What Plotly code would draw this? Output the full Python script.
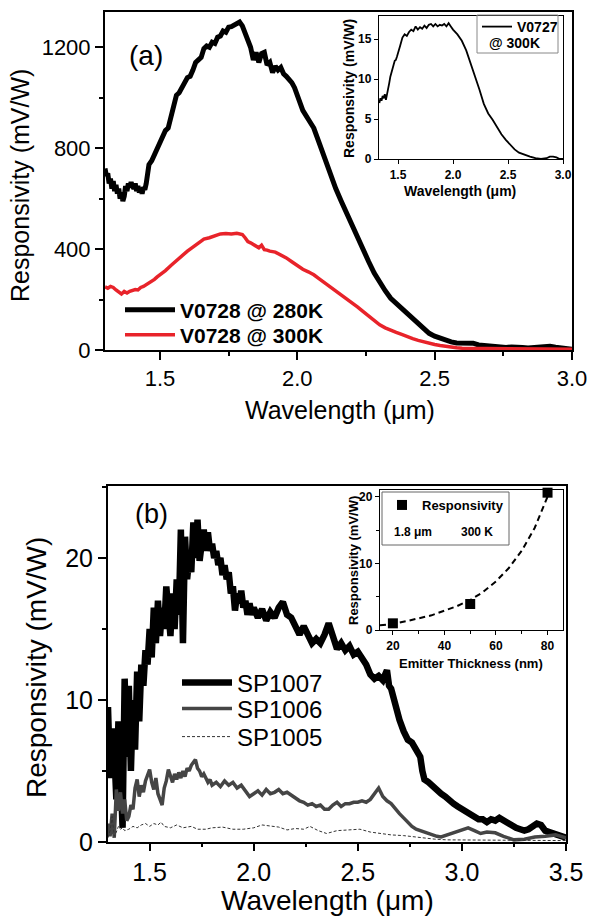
import plotly.graph_objects as go

W, H = 590, 917

# ---------------- Panel (a) data ----------------
wl_280 = [1.300,1.305,1.310,1.315,1.320,1.325,1.330,1.335,1.340,1.345,1.350,1.355,1.360,1.365,1.370,1.375,1.380,1.385,1.390,1.395,
          1.400,1.405,1.410,1.415,1.420,1.425,1.430,1.435,1.440,1.445,1.450,1.455,1.460,1.470,1.480,1.490,1.500,1.510,1.520,1.530,
          1.540,1.550,1.560,1.570,1.580,1.590,1.600,1.610,1.620,1.630,1.640,1.650,1.660,1.670,1.680,1.690,1.700,1.710,1.720,1.730,
          1.740,1.750,1.760,1.770,1.780,1.790,1.800,1.810,1.820,1.830,1.840,1.850,1.860,1.870,1.880,1.890,1.900,1.910,1.920,1.930,
          1.940,1.950,1.960,1.970,1.980,1.990,2.000,2.020,2.040,2.060,2.080,2.100,2.120,2.140,2.160,2.180,2.200,2.220,2.240,2.260,
          2.280,2.300,2.320,2.340,2.360,2.380,2.400,2.420,2.440,2.460,2.480,2.500,2.520,2.540,2.560,2.580,2.600,2.620,2.640,2.660,
          2.680,2.700,2.720,2.740,2.760,2.780,2.800,2.820,2.840,2.860,2.880,2.900,2.920,2.940,2.960,2.980,3.000]
resp_280 = [720,690,700,660,680,640,670,630,655,620,640,600,625,590,610,650,630,660,645,665,
            650,640,660,630,650,625,640,620,645,635,660,700,735,750,775,790,815,840,870,880,
            920,960,1010,1020,1045,1060,1080,1085,1110,1140,1150,1160,1195,1205,1200,1220,1215,1240,1245,1265,
            1260,1280,1282,1288,1295,1300,1285,1260,1235,1200,1150,1180,1140,1175,1180,1130,1140,1100,1125,1110,
            1120,1095,1085,1075,1060,1040,1005,950,915,880,820,755,690,640,590,540,490,445,395,350,
            305,265,235,205,185,160,140,120,100,80,66,55,46,38,32,28,28,25,27,20,
            18,14,12,14,10,12,9,10,8,9,10,12,15,11,7,5,3]

wl_300 = [1.300,1.310,1.320,1.330,1.340,1.350,1.360,1.370,1.380,1.390,1.400,1.410,1.420,1.430,1.440,1.450,1.460,1.470,1.480,1.490,
          1.500,1.520,1.540,1.560,1.580,1.600,1.620,1.640,1.660,1.680,1.700,1.720,1.740,1.760,1.780,1.800,1.810,1.820,1.830,1.840,
          1.850,1.860,1.870,1.880,1.890,1.900,1.920,1.940,1.960,1.980,2.000,2.020,2.040,2.060,2.080,2.100,2.120,2.140,2.160,2.180,
          2.200,2.220,2.240,2.260,2.280,2.300,2.320,2.340,2.360,2.380,2.400,2.420,2.440,2.460,2.480,2.500,2.520,2.540,2.560,2.580,
          2.600,2.650,2.700,2.800,2.900,3.000]
resp_300 = [250,245,252,248,238,228,222,232,226,233,236,240,238,248,252,258,266,272,280,290,
            298,315,335,355,372,392,408,424,440,445,452,460,462,460,463,458,445,430,425,418,
            412,405,415,398,396,392,388,378,365,350,335,320,310,298,282,266,250,235,220,206,
            188,170,152,135,118,100,88,78,70,62,52,45,38,32,26,22,18,14,11,9,
            7,6,5,5,4,3]

# inset (a)
wl_727 = [1.33,1.34,1.35,1.36,1.37,1.38,1.39,1.40,1.41,1.42,1.43,1.44,1.45,1.46,1.47,1.48,1.49,1.50,1.52,1.54,
          1.56,1.58,1.60,1.62,1.64,1.66,1.68,1.70,1.72,1.74,1.76,1.78,1.80,1.82,1.84,1.86,1.88,1.90,1.92,1.94,
          1.96,1.98,2.00,2.04,2.08,2.12,2.16,2.20,2.24,2.28,2.32,2.36,2.40,2.44,2.48,2.52,2.56,2.60,2.65,2.70,
          2.75,2.80,2.85,2.88,2.91,2.94,2.97,3.00]
resp_727 = [7.0,7.6,7.3,7.9,7.6,8.1,7.4,8.0,8.6,9.5,10.3,10.9,11.6,11.8,12.3,12.4,12.8,13.2,14.2,15.2,
            15.6,15.4,15.9,16.2,16.0,16.6,16.2,16.5,16.3,16.7,16.4,16.8,16.9,16.6,16.9,16.6,16.8,16.7,16.9,16.6,
            17.0,16.6,16.2,15.6,14.8,13.6,12.0,10.4,8.7,6.9,5.7,4.9,4.0,3.1,2.4,1.8,1.2,0.8,0.5,0.3,
            0.1,0.0,0.1,0.3,0.3,0.2,0.0,0.0]

# ---------------- Panel (b) data ----------------
wl_1007 = [1.30,1.31,1.32,1.33,1.34,1.35,1.36,1.37,1.38,1.39,1.40,1.41,1.42,1.43,1.44,1.45,1.46,1.47,1.48,1.49,
           1.50,1.51,1.52,1.53,1.54,1.55,1.56,1.57,1.58,1.59,1.60,1.61,1.62,1.63,1.64,1.65,1.66,1.67,1.68,1.69,
           1.70,1.71,1.72,1.73,1.74,1.75,1.76,1.77,1.78,1.79,1.80,1.81,1.82,1.83,1.84,1.85,1.86,1.87,1.88,1.89,
           1.90,1.91,1.92,1.93,1.94,1.95,1.96,1.97,1.98,1.99,2.00,2.02,2.04,2.06,2.08,2.10,2.12,2.14,2.16,2.18,
           2.20,2.22,2.24,2.26,2.28,2.30,2.32,2.34,2.36,2.38,2.40,2.42,2.44,2.46,2.48,2.50,2.52,2.54,2.56,2.58,
           2.60,2.62,2.64,2.65,2.66,2.68,2.70,2.72,2.74,2.76,2.78,2.80,2.81,2.82,2.84,2.86,2.88,2.90,2.92,2.94,
           2.96,2.98,3.00,3.02,3.04,3.06,3.08,3.10,3.12,3.14,3.16,3.18,3.20,3.22,3.24,3.26,3.28,3.30,3.32,3.34,
           3.36,3.38,3.40,3.42,3.44,3.46,3.48,3.50]
resp_1007 = [9.5,4.5,8.0,6.5,3.0,8.5,5.0,1.0,11.5,6.0,11.0,5.0,10.0,6.5,12.0,8.5,12.5,11.0,13.5,12.5,
             15.0,13.0,16.5,14.0,17.0,14.5,16.5,15.0,18.0,16.0,14.5,17.5,15.0,18.5,16.0,22.0,14.0,21.5,18.5,20.0,
             19.0,22.5,20.0,22.7,19.8,21.0,22.0,20.5,21.8,20.5,21.0,20.0,20.5,19.5,20.0,18.8,19.5,18.5,19.0,17.5,
             18.0,16.3,17.5,16.8,17.7,16.5,17.0,16.0,16.8,16.0,16.5,15.8,16.4,15.6,16.2,15.8,16.5,16.9,16.0,15.8,
             15.2,14.6,15.2,14.5,14.0,14.3,14.0,14.6,15.4,14.5,13.6,14.0,13.5,13.8,13.2,13.4,13.0,12.5,11.8,11.5,
             11.7,11.4,12.1,11.0,10.8,9.5,8.6,7.8,7.2,7.0,6.5,6.0,5.0,4.4,4.2,3.9,3.7,3.4,3.2,2.9,
             2.7,2.5,2.3,2.1,2.0,1.8,1.6,1.6,1.4,1.6,1.5,1.7,1.5,1.4,1.1,1.0,0.9,0.8,0.9,1.1,
             1.3,1.2,0.8,0.7,0.6,0.5,0.4,0.3]

wl_1006 = [1.30,1.31,1.32,1.33,1.34,1.35,1.36,1.37,1.38,1.39,1.40,1.41,1.42,1.43,1.44,1.45,1.46,1.47,1.48,1.49,
           1.50,1.51,1.52,1.53,1.54,1.55,1.56,1.57,1.58,1.59,1.60,1.61,1.62,1.63,1.64,1.65,1.66,1.67,1.68,1.69,
           1.70,1.71,1.72,1.73,1.74,1.75,1.76,1.77,1.78,1.79,1.80,1.82,1.84,1.86,1.88,1.90,1.92,1.94,1.96,1.98,
           2.00,2.02,2.04,2.06,2.08,2.10,2.12,2.14,2.16,2.18,2.20,2.22,2.24,2.26,2.28,2.30,2.32,2.34,2.36,2.38,
           2.40,2.42,2.44,2.46,2.48,2.50,2.52,2.54,2.56,2.58,2.60,2.62,2.64,2.66,2.68,2.70,2.72,2.74,2.76,2.78,
           2.80,2.82,2.85,2.88,2.90,2.93,2.96,3.00,3.03,3.06,3.09,3.12,3.16,3.20,3.25,3.30,3.35,3.40,3.45,3.50]
resp_1006 = [1.3,0.4,2.0,0.3,3.7,2.2,3.5,2.0,3.0,1.5,1.8,2.6,2.3,3.8,4.4,3.2,4.0,3.5,4.3,4.8,
             5.1,4.2,3.7,4.5,3.4,3.0,2.6,3.8,4.3,5.1,4.6,4.2,4.8,4.4,4.9,4.5,5.0,4.6,5.2,5.0,
             5.4,5.6,5.8,5.2,5.0,4.6,4.8,4.5,4.2,4.4,4.0,4.2,3.9,4.3,4.0,4.2,3.8,4.0,3.6,3.2,
             3.4,3.6,3.3,3.7,3.4,3.5,3.7,3.4,3.5,3.3,3.1,2.9,2.8,2.6,2.7,2.5,2.6,2.3,2.3,2.6,
             2.8,2.5,2.7,2.7,2.8,2.8,2.9,2.8,3.0,3.4,3.8,3.2,2.9,2.7,2.3,2.0,1.7,1.4,1.1,0.9,
             0.8,0.7,0.5,0.4,0.35,0.5,0.6,0.8,1.0,0.8,0.6,0.7,0.65,0.4,0.15,0.2,0.35,0.4,0.5,0.3]

wl_1005 = [1.30,1.31,1.32,1.33,1.34,1.35,1.36,1.37,1.38,1.40,1.42,1.44,1.46,1.48,1.50,1.52,1.54,1.555,1.57,1.60,
           1.63,1.66,1.70,1.73,1.77,1.80,1.85,1.90,1.95,2.00,2.04,2.08,2.12,2.16,2.20,2.24,2.27,2.31,2.35,2.40,
           2.45,2.51,2.56,2.61,2.66,2.72,2.77,2.82,2.87,2.93,3.00,3.10,3.20,3.30,3.40,3.50]
resp_1005 = [0.3,0.8,1.8,0.4,0.7,1.1,0.9,1.0,0.8,0.9,1.1,1.0,1.2,1.3,1.1,1.3,1.2,1.4,1.1,1.0,
             1.2,1.0,1.1,0.9,0.9,1.0,1.05,0.9,0.9,1.0,1.2,1.1,1.05,0.85,0.95,0.9,1.1,0.8,0.6,0.8,
             0.85,0.9,0.7,0.6,0.5,0.45,0.35,0.3,0.2,0.15,0.15,0.1,0.15,0.1,0.15,0.1]

# inset (b)
thickness_nm = [20, 50, 80]
resp_thick = [1.0, 3.9, 20.6]
fit_thick = [15, 20, 25, 30, 35, 40, 45, 50, 55, 60, 65, 70, 75, 80, 81]
fit_resp = [0.7, 0.9, 1.3, 1.7, 2.2, 2.9, 3.6, 4.5, 5.7, 7.3, 9.3, 11.9, 15.3, 20.0, 20.9]

FONT = "Liberation Sans"


def px(x):
    return x / W


def py(y):
    return 1 - y / H


fig = go.Figure()

# panel (a)
fig.add_trace(go.Scatter(x=wl_280, y=resp_280, mode="lines", name="V0728 @ 280K",
                         line=dict(color="black", width=5), xaxis="x", yaxis="y", legend="legend"))
fig.add_trace(go.Scatter(x=wl_300, y=resp_300, mode="lines", name="V0728 @ 300K",
                         line=dict(color="#e8232a", width=3.5), xaxis="x", yaxis="y", legend="legend5"))
# inset (a)
fig.add_trace(go.Scatter(x=wl_727, y=resp_727, mode="lines", name="V0727",
                         line=dict(color="black", width=1.8), xaxis="x2", yaxis="y2", legend="legend2"))
# panel (b)
fig.add_trace(go.Scatter(x=wl_1007, y=resp_1007, mode="lines", name="SP1007",
                         line=dict(color="black", width=6.5), xaxis="x3", yaxis="y3", legend="legend3"))
fig.add_trace(go.Scatter(x=wl_1006, y=resp_1006, mode="lines", name="SP1006",
                         line=dict(color="#454545", width=3.5), xaxis="x3", yaxis="y3", legend="legend6"))
fig.add_trace(go.Scatter(x=wl_1005, y=resp_1005, mode="lines", name="SP1005",
                         line=dict(color="#333333", width=1, dash="3px,2px"), xaxis="x3", yaxis="y3", legend="legend7"))
# inset (b)
fig.add_trace(go.Scatter(x=fit_thick, y=fit_resp, mode="lines", showlegend=False,
                         line=dict(color="black", width=2, dash="6px,4px"), xaxis="x4", yaxis="y4"))
fig.add_trace(go.Scatter(x=thickness_nm, y=resp_thick, mode="markers", name="Responsivity",
                         marker=dict(symbol="square", size=10, color="black"), cliponaxis=False,
                         xaxis="x4", yaxis="y4", legend="legend4"))


def ax(domain, rng, dtick, minor_dtick, size, lw, ticklen, bold=False, fmt=None, anchor=None):
    d = dict(domain=domain, range=rng, showline=True, linecolor="black", linewidth=lw, mirror=True,
             ticks="outside", ticklen=ticklen, tickwidth=lw, tickcolor="black", dtick=dtick, tick0=0,
             showgrid=False, zeroline=False, automargin=False, anchor=anchor,
             tickfont=dict(family=FONT, size=size, color="black", weight="bold" if bold else "normal"))
    if fmt:
        d["tickformat"] = fmt
    if minor_dtick:
        d["minor"] = dict(ticks="outside", ticklen=max(3, ticklen // 2), tickwidth=lw, tickcolor="black",
                          dtick=minor_dtick, showgrid=False)
    return d


def leg(x, y, size, bold=False, itemwidth=30):
    return dict(x=px(x), y=py(y), xanchor="left", yanchor="middle", bgcolor="rgba(0,0,0,0)",
                font=dict(family=FONT, size=size, color="black", weight="bold" if bold else "normal"),
                itemwidth=itemwidth)


fig.update_layout(
    width=W, height=H, margin=dict(l=0, r=0, t=0, b=0),
    paper_bgcolor="white", plot_bgcolor="white",
    font=dict(family=FONT, color="black"),
    xaxis=ax([px(105), px(572)], [1.3, 3.0], 0.5, 0.25, 22, 2, 8, fmt=".1f", anchor="y"),
    yaxis=ax([py(350), py(12)], [0, 1340], 400, 200, 22, 2, 8, anchor="x"),
    xaxis2=ax([px(379), px(563)], [1.327, 3.0], 0.5, None, 12, 1.3, 4, bold=True, fmt=".1f", anchor="y2"),
    yaxis2=ax([py(159), py(16)], [0, 17.9], 5, None, 12, 1.3, 4, bold=True, anchor="x2"),
    xaxis3=ax([px(108), px(566)], [1.3, 3.5], 0.5, 0.25, 25, 2, 7, fmt=".1f", anchor="y3"),
    yaxis3=ax([py(842), py(486)], [0, 25.07], 10, 5, 25, 2, 8, anchor="x3"),
    xaxis4=ax([px(380), px(563)], [15, 86], 20, 10, 12, 1.3, 4, bold=True, anchor="y4"),
    yaxis4=ax([py(630), py(490)], [0, 21], 10, 5, 12, 1.3, 4, bold=True, anchor="x4"),
    legend=leg(120, 310, 21, bold=True, itemwidth=50),
    legend5=leg(120, 335, 21, bold=True, itemwidth=50),
    legend2=leg(477, 27, 14, bold=True),
    legend3=leg(177, 683, 24, itemwidth=50),
    legend6=leg(177, 709, 24, itemwidth=50),
    legend7=leg(177, 737, 24, itemwidth=50),
    legend4=leg(382, 505, 13, bold=True),
)

shapes = [
    dict(type="rect", xref="paper", yref="paper", x0=px(477), x1=px(558), y0=py(53), y1=py(15),
         line=dict(color="#888888", width=1)),
    dict(type="rect", xref="paper", yref="paper", x0=px(382), x1=px(509), y0=py(545), y1=py(492),
         line=dict(color="#666666", width=1)),
]
fig.update_layout(shapes=shapes)


def ann(text, x, y, size, angle=0, bold=False):
    return dict(text=text, x=px(x), y=py(y), xref="paper", yref="paper", showarrow=False,
                xanchor="center", yanchor="middle", textangle=angle,
                font=dict(family=FONT, size=size, color="black", weight="bold" if bold else "normal"))


annotations = [
    ann("(a)", 146, 56, 28),
    ann("(b)", 151, 514, 27),
    ann("Responsivity (mV/W)", 20, 186, 25, angle=-90),
    ann("Wavelength (μm)", 340, 410, 25),
    ann("Responsivity (mV/W)", 36, 668, 28, angle=-90),
    ann("Wavelength (μm)", 327, 900, 28),
    ann("Responsivity (mV/W)", 349, 89, 14, angle=-90, bold=True),
    ann("Wavelength (μm)", 460, 191, 14, bold=True),
    ann("@ 300K", 514, 43, 14, bold=True),
    ann("Responsivity (mV/W)", 353, 561, 13, angle=-90, bold=True),
    ann("Emitter Thickness (nm)", 471, 663, 13, bold=True),
    ann("1.8 μm", 413, 532, 12, bold=True),
    ann("300 K", 477, 532, 12, bold=True),
]
fig.update_layout(annotations=annotations)

fig.write_html("out.html")
